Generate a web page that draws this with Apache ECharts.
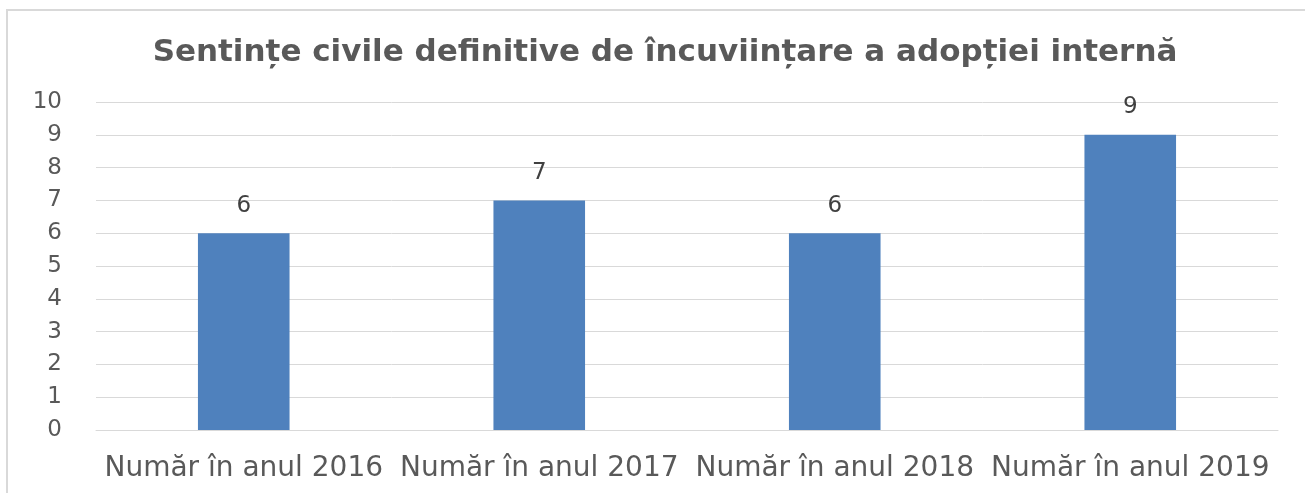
<!DOCTYPE html>
<html>
<head>
<meta charset="utf-8">
<script src="https://cdn.jsdelivr.net/npm/echarts@6/dist/echarts.min.js"></script>
<style>
  html, body { margin: 0; padding: 0; background: #fff; }
  #chart { width: 1305px; height: 493px; }
</style>
</head>
<body>
<div id="chart"></div>
<script>
// date
var categories = ['Număr în anul 2016', 'Număr în anul 2017', 'Număr în anul 2018', 'Număr în anul 2019'];
var values = [6, 7, 6, 9];
var titleText = 'Sentințe civile definitive de încuviințare a adopției internă';

var chart = echarts.init(document.getElementById('chart'));

var option = {
  animation: false,
  title: {
    text: titleText,
    left: 660,
    textAlign: 'center',
    top: 32,
    textStyle: {
      fontFamily: 'DejaVu Sans',
      fontSize: 31,
      fontWeight: 'bold',
      color: '#595959'
    }
  },
  graphic: [
    // chenarul gri (doar sus si stanga se vad)
    { type: 'rect', shape: { x: 6, y: 9, width: 1310, height: 2 }, style: { fill: '#d9d9d9' } },
    { type: 'rect', shape: { x: 6, y: 9, width: 2, height: 500 }, style: { fill: '#d9d9d9' } }
  ],
  grid: {
    left: 96,
    right: 27,
    top: 102,
    bottom: 63
  },
  xAxis: {
    type: 'category',
    data: categories,
    axisTick: { show: false },
    axisLine: { lineStyle: { color: '#d9d9d9', width: 1 } },
    axisLabel: {
      interval: 0,
      margin: 25,
      fontFamily: 'DejaVu Sans',
      fontSize: 28,
      color: '#595959'
    }
  },
  yAxis: {
    type: 'value',
    min: 0,
    max: 10,
    interval: 1,
    axisLine: { show: false },
    axisTick: { show: false },
    splitLine: { lineStyle: { color: '#d9d9d9', width: 1 } },
    axisLabel: {
      margin: 34,
      fontFamily: 'DejaVu Sans',
      fontSize: 23,
      color: '#595959'
    }
  },
  series: [{
    type: 'bar',
    data: values,
    barWidth: '31%',
    itemStyle: { color: '#4f81bd' },
    label: {
      show: true,
      position: 'top',
      distance: 16,
      fontFamily: 'DejaVu Sans',
      fontSize: 23,
      color: '#404040'
    }
  }]
};

chart.setOption(option);
</script>
</body>
</html>
